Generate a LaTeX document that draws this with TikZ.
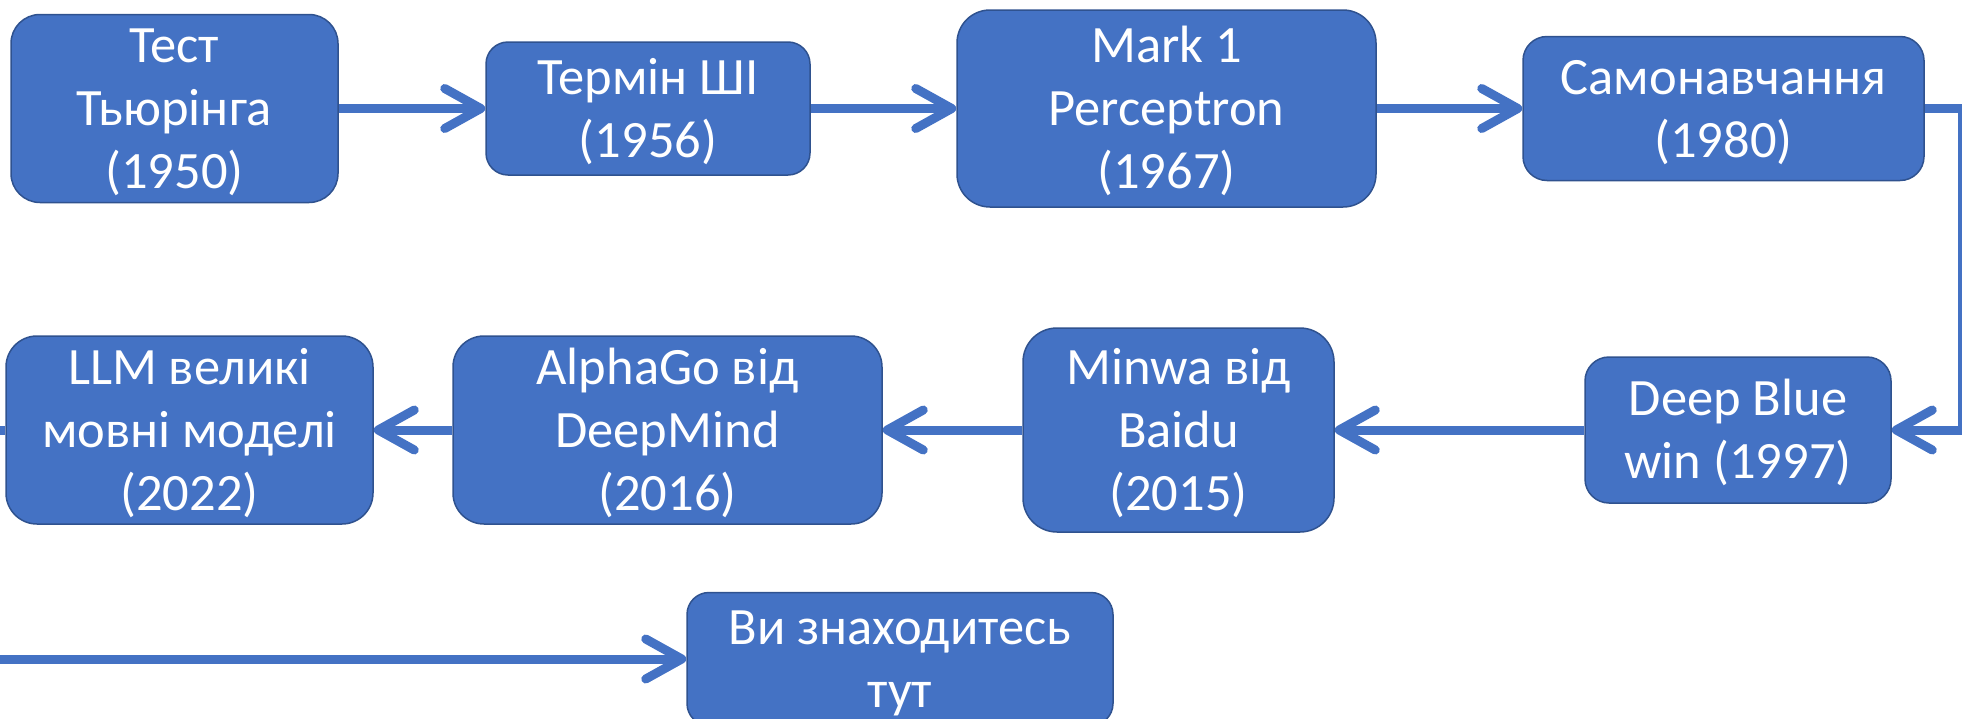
\documentclass[tikz,border=0pt]{standalone}
\usepackage{fontspec}
\setmainfont{Carlito}
\usetikzlibrary{arrows.meta}
\definecolor{boxblue}{HTML}{4472C4}
\definecolor{edgeblue}{HTML}{2F528F}
\newcommand{\lnstrut}{\rule[-14pt]{0pt}{62pt}}
\begin{document}
\begin{tikzpicture}[x=1pt,y=-1pt,
  stage/.style={rectangle, draw=edgeblue, line width=1.5pt, fill=boxblue,
    text=white, align=center, inner sep=0pt,
    font=\fontsize{52.5}{63}\selectfont},
  link/.style={draw=boxblue, line width=9pt,
    -{Straight Barb[length=36pt,width=40pt,line cap=round,line join=round]}}
]
\useasboundingbox (0,0) rectangle (1962,718);
\clip (0,0) rectangle (1962,718);

% top row
\node[stage, minimum width=327pt, minimum height=173pt, rounded corners=29pt] (n1) at (174.5,108.5)
  {\lnstrut Тест\\\lnstrut Тьюрінга\\\lnstrut (1950)};
\node[stage, minimum width=324pt, minimum height=133pt, rounded corners=22pt] (n2) at (648,108.5)
  {\lnstrut Термін ШІ\\\lnstrut (1956)};
\node[stage, minimum width=419pt, minimum height=197pt, rounded corners=33pt] (n3) at (1166.5,108.5)
  {\lnstrut Mark 1\\\lnstrut Perceptron\\\lnstrut (1967)};
\node[stage, minimum width=401pt, minimum height=144pt, rounded corners=24pt] (n4) at (1723.5,108.5)
  {\lnstrut Самонавчання\\\lnstrut (1980)};

% middle row
\node[stage, minimum width=306pt, minimum height=146pt, rounded corners=24pt] (n5) at (1738,430)
  {\lnstrut Deep Blue\\\lnstrut win (1997)};
\node[stage, minimum width=311pt, minimum height=204pt, rounded corners=34pt] (n6) at (1178.5,430)
  {\lnstrut Minwa від\\\lnstrut Baidu\\\lnstrut (2015)};
\node[stage, minimum width=429pt, minimum height=187pt, rounded corners=31pt] (n7) at (667.5,430)
  {\lnstrut AlphaGo від\\\lnstrut DeepMind\\\lnstrut (2016)};
\node[stage, minimum width=367pt, minimum height=187pt, rounded corners=31pt] (n8) at (189.5,430)
  {\lnstrut LLM великі\\\lnstrut мовні моделі\\\lnstrut (2022)};

% bottom row
\node[stage, minimum width=426pt, minimum height=133pt, rounded corners=22pt] (n9) at (900,659)
  {\lnstrut Ви знаходитесь\\\lnstrut тут};

% connector corners
\coordinate (rc) at (1962,108.5);
\coordinate (lc) at (-20,430);

% connectors
\draw[link] (n1.east) -- (n2.west);
\draw[link] (n2.east) -- (n3.west);
\draw[link] (n3.east) -- (n4.west);
\draw[link] (n4.east) -- (rc) |- (n5.east);
\draw[link] (n5.west) -- (n6.east);
\draw[link] (n6.west) -- (n7.east);
\draw[link] (n7.west) -- (n8.east);
\draw[link] (n8.west) -- (lc) |- (n9.west);
\end{tikzpicture}
\end{document}
